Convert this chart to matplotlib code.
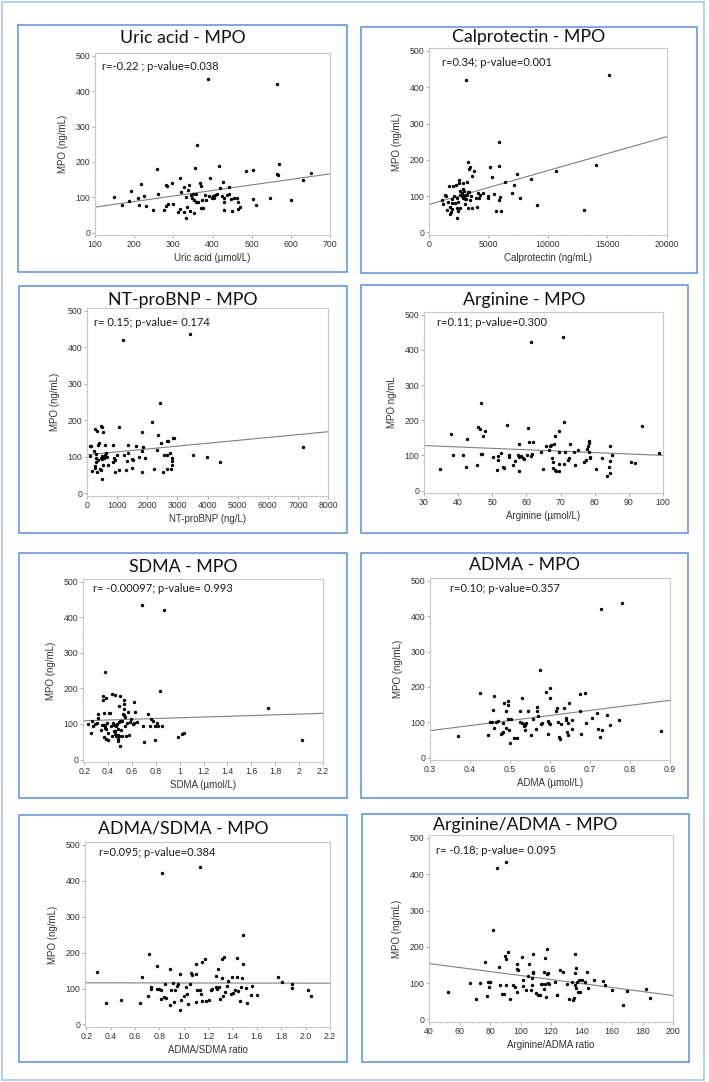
import numpy as np
import matplotlib
matplotlib.use("Agg")
import matplotlib.pyplot as plt
from matplotlib.patches import Rectangle
from matplotlib.ticker import AutoMinorLocator, MultipleLocator, FuncFormatter

# ---------------- data ----------------
# Uric acid vs MPO
uric_x = [149, 169, 187, 192, 209, 212, 217, 226, 231, 247, 258, 260, 276, 280, 284, 281, 287,
          297, 299, 311, 316, 316, 320, 326, 328, 332, 333, 336, 338, 340, 343, 346, 348, 350,
          352, 354, 356, 357, 359, 361, 364, 368, 370, 370, 374, 377, 382, 383, 389, 391, 394,
          399, 402, 404, 407, 411, 416, 420, 424, 428, 430, 430, 430, 438, 441, 443, 447, 451,
          454, 462, 464, 466, 469, 486, 503, 504, 511, 546, 564, 565, 567, 570, 601, 631, 651]
uric_y = [101, 79, 89, 118, 99, 77, 136, 104, 76, 64, 181, 108, 64, 134, 132, 76, 81,
          139, 81, 58, 153, 66, 114, 57, 129, 100, 41, 71, 121, 134, 62, 107, 98, 110,
          92, 54, 182, 110, 85, 248, 87, 140, 133, 68, 93, 68, 106, 92, 435, 103, 154,
          98, 103, 99, 106, 109, 187, 127, 104, 143, 98, 85, 64, 107, 128, 110, 94, 60,
          98, 98, 66, 85, 71, 174, 96, 178, 78, 98, 419, 167, 162, 195, 93, 148, 168]
uric_fit = [72, 166]

# Calprotectin vs MPO
calpro_x = [1066, 1206, 1346, 1430, 1487, 1627, 1711, 1767, 1795, 1851, 1907, 1907, 1964, 2048,
            2104, 2160, 2272, 2328, 2384, 2384, 2412, 2440, 2496, 2552, 2580, 2609, 2637, 2749,
            2805, 2833, 2861, 2889, 2917, 2973, 3001, 3029, 3085, 3114, 3142, 3170, 3226, 3254,
            3282, 3310, 3338, 3394, 3450, 3478, 3563, 3619, 3647, 3787, 3927, 4039, 4095, 4207,
            4292, 4516, 4965, 4993, 5161, 5301, 5470, 5638, 5862, 5918, 5918, 5975, 6087, 6396,
            6985, 7125, 7377, 7630, 8555, 9060, 10687, 12987, 14053, 15091]
calpro_y = [89, 77, 103, 100, 62, 83, 129, 52, 69, 57, 92, 81, 64, 129,
            101, 81, 131, 67, 94, 41, 59, 85, 135, 144, 113, 102, 66, 100,
            110, 135, 95, 119, 115, 100, 79, 92, 104, 419, 93, 139, 103, 195,
            112, 67, 175, 112, 179, 90, 101, 155, 67, 169, 96, 71, 110, 94,
            104, 110, 100, 95, 180, 154, 105, 58, 90, 248, 183, 98, 59, 138,
            110, 130, 162, 95, 146, 75, 169, 63, 186, 435]
calpro_fit = [77, 264]

# NT-proBNP vs MPO
bnp_x = [89, 145, 111, 178, 234, 256, 256, 279, 290, 312, 312, 334, 334, 356, 379, 401, 434,
         457, 468, 479, 490, 490, 501, 512, 535, 535, 568, 590, 613, 646, 668, 702, 847, 869,
         902, 913, 936, 980, 1058, 1058, 1203, 1236, 1292, 1314, 1348, 1348, 1482, 1504, 1515,
         1626, 1738, 1816, 1838, 1838, 1860, 1938, 2172, 2239, 2339, 2350, 2417, 2451, 2529,
         2551, 2640, 2651, 2663, 2696, 2752, 2796, 2807, 2807, 2818, 2841, 2896, 3420, 3531,
         3988, 4400, 7185]
bnp_y = [130, 130, 103, 61, 115, 74, 71, 176, 108, 97, 85, 172, 60, 92, 133, 138, 67,
         97, 186, 63, 40, 182, 95, 103, 79, 168, 98, 106, 132, 110, 99, 79, 134, 85,
         97, 58, 92, 104, 181, 65, 420, 106, 65, 90, 134, 112, 69, 95, 92,
         130, 101, 167, 115, 58, 128, 98, 195, 66, 120, 161, 248, 139, 58,
         106, 106, 144, 68, 144, 111, 68, 97, 88, 77, 153, 153, 437, 105,
         100, 85, 128]
bnp_fit = [106, 169]

# Arginine vs MPO
arg_x = [34.7, 37.8, 38.4, 41.3, 42.4, 42.6, 45.5, 45.9, 46.3, 46.6, 46.8, 47.0, 47.3, 47.9,
         50.2, 51.3, 51.7, 51.8, 52.5, 53.2, 53.3, 54.4, 54.8, 55.0, 56.0, 56.6, 57.5, 57.7,
         57.7, 57.9, 58.4, 58.9, 59.3, 60.3, 60.5, 60.7, 61.3, 61.3, 61.5, 61.9, 64.2, 64.9,
         65.8, 66.6, 66.8, 67.3, 67.5, 67.7, 67.8, 68.0, 68.4, 68.5, 68.8, 69.4, 69.4, 69.6,
         69.5, 70.6, 71.0, 71.1, 71.2, 72.3, 72.6, 72.9, 73.9, 74.2, 75.2, 76.8, 77.5, 77.8,
         78.1, 78.3, 78.4, 78.4, 78.5, 78.7, 80.5, 82.2, 83.5, 84.2, 84.5, 84.5, 84.6, 85.1,
         90.5, 91.9, 93.8, 98.7]
arg_y = [62, 161, 100, 100, 67, 147, 74, 182, 175, 104, 249, 103, 154, 168,
         96, 58, 88, 99, 106, 68, 64, 186, 95, 100, 72, 84, 101, 133,
         57, 96, 98, 92, 90, 100, 178, 137, 422, 97, 104, 139, 109, 61,
         128, 116, 128, 129, 93, 64, 81, 132, 154, 59, 55, 111, 57, 168,
         75, 438, 75, 195, 109, 88, 92, 132, 109, 74, 114, 82, 86, 118,
         127, 142, 134, 109, 96, 93, 62, 93, 40, 66, 128, 84, 51, 102,
         80, 77, 183, 107]
arg_fit = [128, 100]

# SDMA vs MPO
sdma_x = [0.236, 0.256, 0.262, 0.276, 0.290, 0.304, 0.312, 0.315, 0.340, 0.349, 0.354, 0.357,
          0.363, 0.365, 0.368, 0.371, 0.374, 0.377, 0.382, 0.382, 0.385, 0.393, 0.399, 0.402,
          0.405, 0.413, 0.422, 0.430, 0.433, 0.441, 0.447, 0.450, 0.455, 0.461, 0.461, 0.464,
          0.469, 0.472, 0.481, 0.483, 0.483, 0.486, 0.492, 0.495, 0.495, 0.500, 0.503, 0.503,
          0.511, 0.514, 0.517, 0.528, 0.531, 0.534, 0.534, 0.537, 0.539, 0.545, 0.553, 0.559,
          0.570, 0.573, 0.584, 0.593, 0.610, 0.615, 0.618, 0.629, 0.643, 0.680, 0.691, 0.699,
          0.736, 0.747, 0.761, 0.775, 0.789, 0.792, 0.809, 0.820, 0.834, 0.848, 0.870, 0.985,
          1.019, 1.033, 1.740, 2.023]
sdma_y = [100, 76, 109, 94, 99, 102, 116, 129, 83, 97, 180, 167,
          131, 97, 63, 245, 93, 88, 172, 59, 86, 103, 55, 74,
          130, 131, 93, 67, 185, 103, 81, 98, 80, 182, 71, 94,
          67, 100, 58, 87, 70, 53, 65, 106, 151, 39, 178, 109,
          83, 65, 108, 129, 142, 167, 125, 156, 119, 93, 65, 104,
          134, 69, 106, 113, 101, 161, 102, 134, 106, 435, 93, 49,
          129, 94, 113, 108, 55, 94, 104, 94, 193, 93, 420, 63,
          73, 76, 144, 56]
sdma_fit = [109, 130]

# ADMA vs MPO
adma_x = [0.369, 0.426, 0.446, 0.450, 0.454, 0.457, 0.460, 0.461, 0.464, 0.469, 0.477, 0.480,
          0.482, 0.483, 0.486, 0.489, 0.491, 0.494, 0.494, 0.495, 0.497, 0.499, 0.503, 0.510,
          0.517, 0.526, 0.526, 0.530, 0.531, 0.534, 0.535, 0.537, 0.538, 0.540, 0.544, 0.553,
          0.558, 0.564, 0.567, 0.568, 0.569, 0.575, 0.577, 0.580, 0.591, 0.594, 0.596, 0.598,
          0.601, 0.601, 0.601, 0.616, 0.617, 0.621, 0.623, 0.626, 0.628, 0.636, 0.639, 0.641,
          0.642, 0.644, 0.646, 0.647, 0.656, 0.656, 0.674, 0.676, 0.677, 0.688, 0.690, 0.704,
          0.717, 0.721, 0.724, 0.727, 0.730, 0.742, 0.751, 0.772, 0.780, 0.877]
adma_y = [61, 182, 64, 101, 101, 135, 174, 84, 101, 102, 67, 70,
          71, 98, 155, 131, 83, 161, 148, 110, 77, 42, 110, 56,
          56, 133, 101, 98, 168, 94, 89, 77, 92, 99, 131, 63,
          110, 81, 143, 131, 117, 249, 95, 98, 186, 104, 66, 99,
          96, 196, 169, 131, 139, 101, 57, 53, 96, 139, 111, 105,
          73, 98, 65, 153, 82, 106, 179, 133, 67, 184, 97, 113,
          127, 82, 57, 421, 77, 121, 92, 105, 438, 75]
adma_fit = [76, 162]

# ADMA/SDMA ratio vs MPO
ratio_as_x = [0.285, 0.359, 0.482, 0.638, 0.658, 0.704, 0.718, 0.729, 0.731, 0.784, 0.784, 0.800,
              0.811, 0.814, 0.825, 0.836, 0.847, 0.855, 0.885, 0.890, 0.899, 0.912, 0.923, 0.932,
              0.942, 0.956, 0.967, 0.970, 0.978, 1.003, 1.016, 1.025, 1.036, 1.052, 1.058, 1.068,
              1.101, 1.104, 1.104, 1.112, 1.132, 1.137, 1.140, 1.153, 1.153, 1.178, 1.181, 1.211,
              1.225, 1.233, 1.266, 1.268, 1.271, 1.285, 1.293, 1.296, 1.310, 1.318, 1.323, 1.334,
              1.342, 1.353, 1.362, 1.386, 1.397, 1.405, 1.422, 1.436, 1.438, 1.447, 1.460, 1.468,
              1.482, 1.485, 1.488, 1.512, 1.518, 1.548, 1.559, 1.605, 1.770, 1.805, 1.885, 1.885,
              2.016, 2.046]
ratio_as_y = [147, 59, 67, 59, 131, 78, 196, 98, 105, 163, 98, 98,
              71, 96, 422, 77, 112, 73, 53, 155, 96, 115, 62, 96,
              106, 112, 140, 41, 69, 78, 105, 86, 58, 112, 144, 137,
              169, 140, 62, 96, 438, 96, 86, 174, 66, 182, 66, 69,
              95, 100, 134, 105, 100, 155, 105, 72, 181, 130, 78, 188,
              90, 107, 122, 84, 133, 89, 96, 133, 185, 92, 65, 103,
              130, 169, 250, 101, 59, 83, 108, 83, 132, 119, 112, 102,
              97, 80]
ratio_as_fit = [116, 115]

# Arginine/ADMA ratio vs MPO
ratio_aa_x = [52.5, 66.8, 71.0, 73.4, 76.9, 78.2, 78.5, 79.1, 79.8, 80.2, 81.8, 84.6, 86.2, 86.6,
              87.9, 89.0, 89.9, 90.3, 90.5, 90.5, 92.1, 92.9, 95.4, 96.3, 97.4, 97.4, 97.6, 98.2,
              100.9, 101.5, 101.9, 103.5, 104.8, 105.5, 106.8, 107.3, 107.5, 108.0, 108.1, 108.1,
              110.3, 111.4, 112.5, 113.4, 114.3, 115.4, 115.6, 115.8, 116.0, 116.7, 117.1, 117.4,
              117.8, 118.2, 118.7, 122.9, 123.7, 124.2, 126.2, 127.9, 130.8, 131.6, 133.8, 134.5,
              135.2, 135.8, 136.0, 136.0, 136.5, 136.7, 137.1, 137.4, 138.5, 138.7, 140.0, 142.2,
              143.7, 144.2, 148.4, 153.8, 155.4, 160.0, 167.3, 170.1, 182.4, 184.8]
ratio_aa_y = [75, 100, 57, 100, 157, 64, 104, 90, 104, 104, 247, 417, 145, 96,
              71, 69, 176, 166, 96, 433, 185, 57, 96, 89, 152, 76, 138, 136,
              172, 109, 93, 81, 120, 152, 82, 115, 94, 180, 132, 127,
              72, 67, 67, 97, 99, 84, 130, 168, 99, 62, 126, 194,
              127, 100, 98, 102, 66, 66, 135, 132, 97, 57, 104, 54,
              59, 181, 129, 94, 86, 141, 103, 76, 110, 75, 110, 104,
              131, 88, 110, 107, 95, 81, 41, 78, 84, 60]
ratio_aa_fit = [154, 66]

titles = ["Uric acid - MPO", "Calprotectin - MPO", "NT-proBNP - MPO", "Arginine - MPO",
          "SDMA - MPO", "ADMA - MPO", "ADMA/SDMA - MPO", "Arginine/ADMA - MPO"]
xlabels = ["Uric acid (\u00b5mol/L)", "Calprotectin (ng/mL)", "NT-proBNP (ng/L)", "Arginine (\u00b5mol/L)",
           "SDMA (\u00b5mol/L)", "ADMA (\u00b5mol/L)", "ADMA/SDMA ratio", "Arginine/ADMA ratio"]
ylabels = ["MPO (ng/mL)", "MPO (ng/mL)", "MPO (ng/mL)", "MPO ng/mL",
           "MPO (ng/mL)", "MPO (ng/mL)", "MPO (ng/mL)", "MPO (ng/mL)"]
stats = ["r=-0.22 ; p-value=0.038", "r=0.34; p-value=0.001", "r= 0.15; p-value= 0.174",
         "r=0.11; p-value=0.300", "r= -0.00097; p-value= 0.993", "r=0.10; p-value=0.357",
         "r=0.095; p-value=0.384", "r= -0.18; p-value= 0.095"]

xs = [uric_x, calpro_x, bnp_x, arg_x, sdma_x, adma_x, ratio_as_x, ratio_aa_x]
ys = [uric_y, calpro_y, bnp_y, arg_y, sdma_y, adma_y, ratio_as_y, ratio_aa_y]
fits = [uric_fit, calpro_fit, bnp_fit, arg_fit, sdma_fit, adma_fit, ratio_as_fit, ratio_aa_fit]

# ---------------- layout (pixels, origin top-left) ----------------
W, H = 709, 1082
boxes = [(18, 25, 347, 272), (361, 27, 697, 273), (19, 286, 347, 533), (361, 285, 688, 533),
         (19, 553, 347, 798), (361, 553, 688, 798), (19, 815, 347, 1062), (362, 814, 689, 1062)]
axboxes = [(95, 53, 330, 235), (429, 48, 667, 235), (87, 308, 328, 496), (424, 312, 663, 493),
           (83, 579, 323, 762), (430, 578, 670, 760), (85, 842, 330, 1027), (429, 835, 673, 1022)]
title_y = [38, 37, 300, 300, 567, 565, 828, 825]
stat_off = [(7, 14), (13, 15), (7, 15), (13, 11), (10, 10), (20, 11), (14, 10), (7, 15)]
xlims = [(100, 700), (0, 20000), (0, 8000), (30, 100), (0.19, 2.2), (0.3, 0.9), (0.19, 2.2), (40, 200)]
xsteps = [100, 5000, 1000, 10, 0.2, 0.1, 0.2, 20]
xfmts = ["%d", "%d", "%d", "%d", "%g", "%.1f", "%.1f", "%d"]

frame_col = "#c8c8c8"
text_col = "#333333"

fig = plt.figure(figsize=(W / 100, H / 100), dpi=100)
fig.patch.set_facecolor("white")

# outer border
fig.patches.append(Rectangle((2 / W, 1 - 1080 / H), 702 / W, 1078 / H, transform=fig.transFigure,
                             fill=False, edgecolor="#a9c6ee", linewidth=1.2))

for i in range(8):
    bl, bt, br, bb = boxes[i]
    fig.patches.append(Rectangle((bl / W, 1 - bb / H), (br - bl) / W, (bb - bt) / H,
                                 transform=fig.transFigure, fill=False,
                                 edgecolor="#5b8fd9", linewidth=1.1))
    l, t, r, b = axboxes[i]
    ax = fig.add_axes([l / W, 1 - b / H, (r - l) / W, (b - t) / H])
    ax.scatter(xs[i], ys[i], s=6, color="black", linewidths=0, zorder=3)
    x0, x1 = xlims[i]
    ax.plot([x0, x1], fits[i], color="#7f7f7f", linewidth=0.8, zorder=2)
    ax.set_xlim(x0, x1)
    ax.set_ylim(-7, 508)
    ax.yaxis.set_major_locator(MultipleLocator(100))
    ax.xaxis.set_major_locator(MultipleLocator(xsteps[i]))
    fmt = xfmts[i]
    ax.xaxis.set_major_formatter(FuncFormatter(lambda v, p, f=fmt: f % v))
    ax.xaxis.set_minor_locator(AutoMinorLocator(5))
    ax.yaxis.set_minor_locator(AutoMinorLocator(5))
    for sp in ax.spines.values():
        sp.set_color(frame_col)
        sp.set_linewidth(0.8)
    ax.tick_params(which="major", length=2, width=0.6, color="#a0a0a0", pad=1.5,
                   labelsize=6.3, labelcolor=text_col)
    ax.tick_params(which="minor", length=1, width=0.5, color="#b0b0b0")
    for lab in ax.get_xticklabels() + ax.get_yticklabels():
        lab.set_family("Liberation Sans")
    ax.set_xlabel(xlabels[i], fontsize=7, color=text_col, family="Liberation Sans", labelpad=3)
    ax.set_ylabel(ylabels[i], fontsize=7, color=text_col, family="Liberation Sans", labelpad=5)
    ox, oy = stat_off[i]
    ax.annotate(stats[i], xy=(0, 1), xycoords="axes fraction", xytext=(ox * 0.72, -oy * 0.72),
                textcoords="offset points", ha="left", va="center", fontsize=8,
                family="Lato", color="#1a1a1a")
    fig.text((bl + br) / 2 / W, 1 - title_y[i] / H, titles[i], ha="center", va="center",
             fontsize=12.8, family="Lato", color="#111111")

fig.savefig("out.png", dpi=100)
